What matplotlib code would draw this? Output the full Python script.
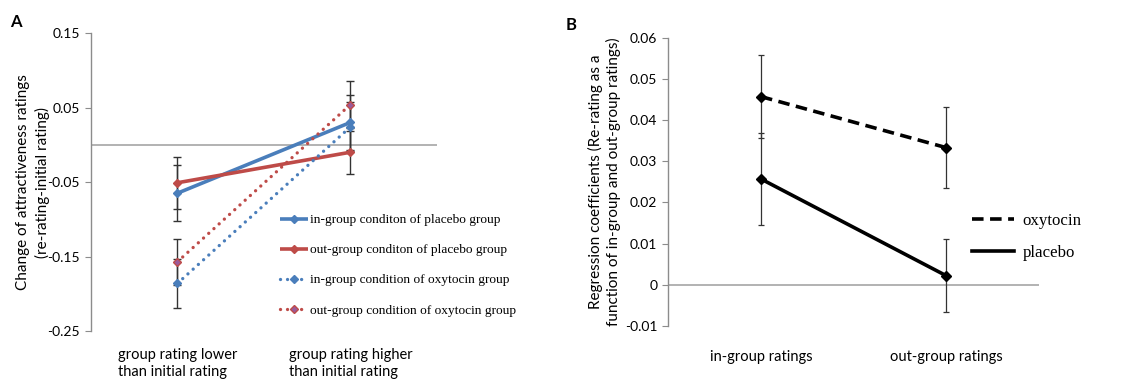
import matplotlib
matplotlib.use("Agg")
import matplotlib.pyplot as plt
from matplotlib.lines import Line2D

# ---------------- data ----------------
cats_a = ["group rating lower\nthan initial rating", "group rating higher\nthan initial rating"]
series_a = [
    "in-group conditon of placebo group",
    "out-group conditon of placebo group",
    "in-group condition of oxytocin group",
    "out-group condition of oxytocin group",
]
in_placebo = [-0.065, 0.030]
out_placebo = [-0.051, -0.010]
in_oxy = [-0.186, 0.024]
out_oxy = [-0.157, 0.054]
err_in_placebo = [0.038, 0.037]
err_out_placebo = [0.035, 0.029]
err_in_oxy = [0.033, 0.033]
err_out_oxy = [0.031, 0.032]
yticks_a = [-0.25, -0.15, -0.05, 0.05, 0.15]

cats_b = ["in-group ratings", "out-group ratings"]
series_b = ["oxytocin", "placebo"]
oxytocin = [0.0457, 0.0333]
placebo = [0.0257, 0.0022]
err_oxytocin = [0.0100, 0.0099]
err_placebo = [0.0112, 0.0089]
yticks_b = [-0.01, 0, 0.01, 0.02, 0.03, 0.04, 0.05, 0.06]

BLUE = "#4a7ebb"
RED = "#be4b48"
SANS = ["Lato", "DejaVu Sans"]
SERIF = ["Liberation Serif", "DejaVu Serif"]

fig = plt.figure(figsize=(11.32, 3.82), dpi=100)

def style_axes(ax, ylim, yticks, labels_fmt, fs):
    ax.set_xlim(-0.5, 1.5)
    ax.set_ylim(*ylim)
    for s in ["top", "right", "bottom"]:
        ax.spines[s].set_visible(False)
    ax.spines["left"].set_color("#8c8c8c")
    ax.spines["left"].set_linewidth(1.0)
    ax.axhline(0, color="#a6a6a6", lw=1.2, zorder=1)
    ax.set_yticks(yticks)
    ax.set_yticklabels([labels_fmt(v) for v in yticks], family=SANS, fontsize=fs)
    ax.tick_params(axis="y", direction="out", length=4, color="#8c8c8c", pad=4)

# ---------------- panel A ----------------
axA = fig.add_axes([0.0804, 0.1335, 0.3056, 0.7801])
style_axes(axA, (-0.25, 0.15), yticks_a, lambda v: f"{v:.2f}", 10)
x = [0, 1]
ebkw = dict(ecolor="#333333", elinewidth=1.0, capsize=3, capthick=1.0, zorder=2)
for vals, errs in [(in_placebo, err_in_placebo), (out_placebo, err_out_placebo),
                   (in_oxy, err_in_oxy), (out_oxy, err_out_oxy)]:
    axA.errorbar(x, vals, yerr=errs, fmt="none", **ebkw)

dot = (0, (0.01, 2.1))
lines_a = [
    dict(data=in_placebo, color=BLUE, ls="-", lw=2.6, mfc=BLUE),
    dict(data=out_placebo, color=RED, ls="-", lw=2.6, mfc=RED),
    dict(data=in_oxy, color=BLUE, ls=dot, lw=2.4, mfc=BLUE),
    dict(data=out_oxy, color=RED, ls=dot, lw=2.4, mfc="#9a5a9a"),
]
handles = []
for d, lab in zip(lines_a, series_a):
    ln, = axA.plot(x, d["data"], color=d["color"], ls=d["ls"], lw=d["lw"],
                   marker="D", ms=4.5, mfc=d["mfc"], mec=d["color"],
                   dash_capstyle="round", solid_capstyle="butt", zorder=3, label=lab)
    handles.append(ln)
axA.set_xticks(x)
axA.set_xticklabels(cats_a, family=SANS, fontsize=10.5, multialignment="left", linespacing=1.3)
axA.tick_params(axis="x", length=0, pad=12)
axA.set_ylabel("Change of attractiveness ratings\n(re-rating-initial rating)",
               family=SANS, fontsize=11, linespacing=1.4)
axA.yaxis.set_label_coords(-0.118, 0.5)
legA = axA.legend(handles=handles, loc="upper left", bbox_to_anchor=(280 / 1132, 1 - 214 / 382),
                  bbox_transform=fig.transFigure, frameon=False, prop={"family": SERIF, "size": 9.6},
                  handlelength=2.1, handletextpad=0.15, labelspacing=1.33, borderpad=0, borderaxespad=0)
fig.text(10 / 1132, 1 - 22 / 382, "A", family=SANS, fontsize=12, fontweight="bold", va="center")

# ---------------- panel B ----------------
axB = fig.add_axes([0.5904, 0.1466, 0.3274, 0.7547])
style_axes(axB, (-0.01, 0.06), yticks_b, lambda v: f"{v:g}", 10)
ebkwB = dict(ecolor="#333333", elinewidth=0.9, capsize=2.5, capthick=0.9, zorder=2)
axB.errorbar(x, oxytocin, yerr=err_oxytocin, fmt="none", **ebkwB)
axB.errorbar(x, placebo, yerr=err_placebo, fmt="none", **ebkwB)
hb1, = axB.plot(x, oxytocin, color="black", lw=2.6, ls=(0, (3.2, 1.8)), marker="D", ms=5,
                zorder=3, label=series_b[0])
hb2, = axB.plot(x, placebo, color="black", lw=2.6, ls="-", marker="D", ms=5, zorder=3,
                label=series_b[1])
axB.set_xticks(x)
axB.set_xticklabels(cats_b, family=SANS, fontsize=10.5)
axB.tick_params(axis="x", length=0, pad=17)
axB.set_ylabel("Regression coefficients (Re-rating as a\nfunction of in-group and out-group ratings)",
               family=SANS, fontsize=11, linespacing=1.3)
axB.yaxis.set_label_coords(-0.127, 0.5)
hl1 = Line2D([], [], color="black", lw=2.6, ls=(0, (3.2, 1.8)))
hl2 = Line2D([], [], color="black", lw=2.6, ls="-")
legB = axB.legend(handles=[hl1, hl2], labels=series_b, loc="upper left",
                  bbox_to_anchor=(972 / 1132, 1 - 213 / 382), bbox_transform=fig.transFigure,
                  frameon=False, prop={"family": SERIF, "size": 12.2}, handlelength=2.5,
                  handletextpad=0.5, labelspacing=0.95, borderpad=0, borderaxespad=0)
fig.text(566 / 1132, 1 - 25 / 382, "B", family=SANS, fontsize=12, fontweight="bold", va="center")

fig.savefig("out.png", dpi=100)
